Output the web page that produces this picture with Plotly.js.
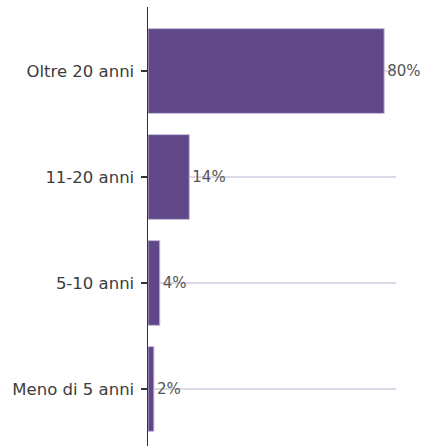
<!DOCTYPE html>
<html>
<head>
<meta charset="utf-8">
<script src="https://cdn.plot.ly/plotly-3.0.1.min.js"></script>
<style>html,body{margin:0;padding:0;background:#fff;}#chart{width:428px;height:446px;}</style>
</head>
<body>
<div id="chart"></div>
<script>
const categories = ["Meno di 5 anni", "5-10 anni", "11-20 anni", "Oltre 20 anni"];
const values = [2, 4, 14, 80];
const labels = ["2%", "4%", "14%", "80%"];

const trace = {
  type: "bar",
  orientation: "h",
  y: categories,
  x: values,
  text: labels,
  textposition: "outside",
  cliponaxis: false,
  textfont: {family: "DejaVu Sans", size: 15, color: "#555555"},
  marker: {color: "#5f4788", line: {color: "#c9c0dd", width: 1}},
  width: 0.8,
  hoverinfo: "none"
};

const layout = {
  width: 428, height: 446,
  margin: {l: 148, r: 32, t: 7, b: 0},
  paper_bgcolor: "#ffffff",
  plot_bgcolor: "#ffffff",
  showlegend: false,
  bargap: 0.2,
  xaxis: {
    range: [0, 84],
    showgrid: false, zeroline: false, showline: false,
    showticklabels: false, ticks: ""
  },
  yaxis: {
    type: "category",
    range: [-0.538, 3.604],
    showgrid: true, gridcolor: "#dcd8e6", gridwidth: 1.5,
    showline: true, linecolor: "#333333", linewidth: 1.5,
    ticks: "outside", ticklen: 6, tickcolor: "#333333", tickwidth: 1.5,
    ticklabelstandoff: 3,
    tickfont: {family: "DejaVu Sans", size: 16.5, color: "#3c3c3c"},
    zeroline: false
  }
};

Plotly.newPlot("chart", [trace], layout, {displayModeBar: false, staticPlot: true});
</script>
</body>
</html>
